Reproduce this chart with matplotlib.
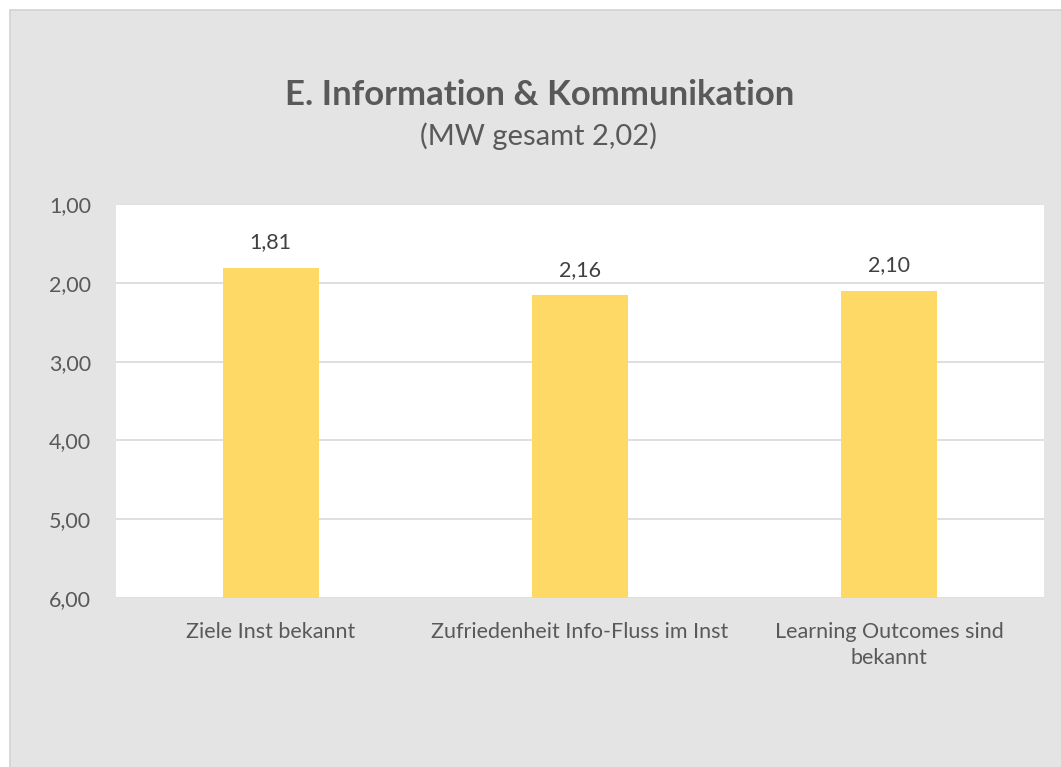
import matplotlib
matplotlib.use("Agg")
import matplotlib.pyplot as plt
from matplotlib.patches import Rectangle

categories = ["Ziele Inst bekannt", "Zufriedenheit Info-Fluss im Inst", "Learning Outcomes sind\nbekannt"]
values = [1.81, 2.16, 2.10]
value_labels = ["1,81", "2,16", "2,10"]
yticks = [1, 2, 3, 4, 5, 6]
ytick_labels = ["1,00", "2,00", "3,00", "4,00", "5,00", "6,00"]
title = "E. Information & Kommunikation"
subtitle = "(MW gesamt 2,02)"

W, H = 1061, 767
fig = plt.figure(figsize=(W / 100, H / 100), dpi=100)
fig.patch.set_facecolor("white")
plt.rcParams['font.family'] = ['Lato', 'DejaVu Sans']

bg = Rectangle((10 / W, -0.01), 1.1, 1 - 10 / H + 0.01, transform=fig.transFigure,
               facecolor="#E4E4E4", edgecolor="#D2D2D2", linewidth=1.2, zorder=-10)
fig.patches.append(bg)

ax = fig.add_axes([116 / W, 1 - 598 / H, (1044 - 116) / W, (598 - 204) / H])
ax.set_zorder(5)
ax.set_facecolor("white")
x = list(range(len(categories)))
bars = ax.bar(x, [v - 6 for v in values], bottom=6, width=0.31, color="#FFD966", zorder=3)
ax.set_ylim(6, 1)
ax.set_xlim(-0.5, len(categories) - 0.5)
ax.set_yticks(yticks)
ax.set_yticklabels(ytick_labels)
ax.set_xticks(x)
ax.set_xticklabels(categories, linespacing=1.4)
ax.tick_params(axis="both", length=0, labelsize=15.5, colors="#595959")
ax.tick_params(axis="y", pad=18)
ax.tick_params(axis="x", pad=17)
for s in ax.spines.values():
    s.set_visible(False)
ax.grid(axis="y", color="#D9D9D9", linewidth=1.2, zorder=1)
ax.set_axisbelow(True)

for xi, v, lab in zip(x, values, value_labels):
    ax.annotate(lab, (xi, v), xytext=(0, 11), textcoords="offset points",
                ha="center", va="bottom", fontsize=15.5, color="#404040")

fig.text(540 / W, 1 - 95 / H, title, ha="center", va="center", fontsize=25,
         fontweight="bold", color="#595959")
fig.text(538 / W, 1 - 136 / H, subtitle, ha="center", va="center", fontsize=21,
         color="#595959")

fig.savefig("out.png", dpi=100)
